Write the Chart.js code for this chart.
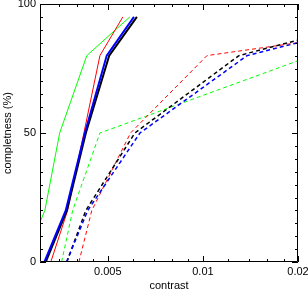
<!DOCTYPE html>
<html>
<head>
<meta charset="utf-8">
<script src="https://cdn.jsdelivr.net/npm/chart.js@4.4.1/dist/chart.umd.min.js"></script>
<style>
  html, body { margin: 0; padding: 0; background: #fff; }
  #wrap { width: 308px; height: 291px; }
</style>
</head>
<body>
<div id="wrap"><canvas id="chart"></canvas></div>
<script>
// completeness levels (%) and the contrast reached at each level
const levels = [0, 20, 50, 80, 95];
const blackSolid = [0.00318, 0.00371, 0.00426, 0.00505, 0.00618];
const blueSolid  = [0.00315, 0.00368, 0.00423, 0.00496, 0.00605];
const redSolid   = [0.00330, 0.00373, 0.00420, 0.00472, 0.00558];
const greenSolid = [0.00270, 0.00316, 0.00352, 0.00429, 0.00587];

// dashed curves run off the right edge, so keep x and y per point
const blackDashedX = [0.00371, 0.00426, 0.00609, 0.0130, 0.02];
const blackDashedY = [0, 20, 50, 80, 86];
const blueDashedX  = [0.00370, 0.00432, 0.00632, 0.0138, 0.02];
const blueDashedY  = [0, 20, 50, 80, 85];
const redDashedX   = [0.00405, 0.00445, 0.00590, 0.0103, 0.02];
const redDashedY   = [0, 20, 50, 80, 85];
const greenDashedX = [0.00357, 0.00387, 0.00472, 0.02];
const greenDashedY = [0, 20, 50, 78];

// tick values
const xMajor = [0.005, 0.01, 0.02];
const xMinor = [0.0035, 0.004, 0.0045, 0.006, 0.007, 0.008, 0.009, 0.012, 0.014, 0.016, 0.018];
const yMajor = [0, 50, 100];
const yMinor = [5, 10, 15, 20, 25, 30, 35, 40, 45, 55, 60, 65, 70, 75, 80, 85, 90, 95];

const pts = (xs, ys) => xs.map((v, i) => ({ x: v, y: ys[i] }));

const font = { family: "'Liberation Sans', Arial, sans-serif", size: 11, lineHeight: 1 };

function line(label, data, color, width, dashed) {
  return {
    label: label,
    data: data,
    borderColor: color,
    borderWidth: width,
    borderDash: dashed ? [4, 3] : [],
    pointRadius: 0,
    tension: 0,
    fill: false,
    clip: 0
  };
}

// IDL-style box with inward ticks on all four sides
const boxTicks = {
  id: 'boxTicks',
  afterDatasetsDraw(chart) {
    const { ctx, chartArea: a, scales: { x, y } } = chart;
    ctx.save();
    ctx.strokeStyle = '#000';
    ctx.lineWidth = 1;
    ctx.beginPath();
    ctx.rect(a.left + 0.5, a.top + 0.5, a.right - a.left - 1, a.bottom - a.top - 1);
    const tx = (v, len) => {
      const px = Math.round(x.getPixelForValue(v)) + 0.5;
      ctx.moveTo(px, a.bottom); ctx.lineTo(px, a.bottom - len);
      ctx.moveTo(px, a.top); ctx.lineTo(px, a.top + len);
    };
    const ty = (v, len) => {
      const py = Math.round(y.getPixelForValue(v)) + 0.5;
      ctx.moveTo(a.left, py); ctx.lineTo(a.left + len, py);
      ctx.moveTo(a.right, py); ctx.lineTo(a.right - len, py);
    };
    xMajor.forEach(v => tx(v, 6));
    xMinor.forEach(v => tx(v, 3));
    yMajor.forEach(v => ty(v, 6));
    yMinor.forEach(v => ty(v, 3));
    ctx.stroke();
    ctx.restore();
  }
};

new Chart(document.getElementById('chart').getContext('2d'), {
  type: 'line',
  data: {
    datasets: [
      line('solid blue', pts(blueSolid, levels), '#0000ff', 2, false),
      line('solid black', pts(blackSolid, levels), '#000000', 2, false),
      line('solid red', pts(redSolid, levels), '#ff0000', 1, false),
      line('solid green', pts(greenSolid, levels), '#00ff00', 1, false),
      line('dashed blue', pts(blueDashedX, blueDashedY), '#0000ff', 1.5, true),
      line('dashed black', pts(blackDashedX, blackDashedY), '#000000', 1.5, true),
      line('dashed red', pts(redDashedX, redDashedY), '#ff0000', 1, true),
      line('dashed green', pts(greenDashedX, greenDashedY), '#00ff00', 1, true)
    ]
  },
  options: {
    responsive: true,
    maintainAspectRatio: false,
    animation: false,
    layout: { padding: { top: 4, right: 10, bottom: 0, left: 0 } },
    plugins: {
      legend: { display: false },
      tooltip: { enabled: false }
    },
    scales: {
      x: {
        type: 'logarithmic',
        min: 0.00305,
        max: 0.02,
        grid: { display: false, drawTicks: false, tickLength: 0 },
        border: { display: false },
        afterBuildTicks: s => { s.ticks = xMajor.map(v => ({ value: v })); },
        afterFit: s => { s.height = 29; s.paddingLeft = 0; s.paddingRight = 0; },
        ticks: {
          callback: v => String(v),
          font: font,
          color: '#000',
          padding: 4,
          maxRotation: 0,
          autoSkip: false
        },
        title: { display: true, text: 'contrast', font: font, color: '#000', padding: 0 }
      },
      y: {
        min: 0,
        max: 100,
        grid: { display: false, drawTicks: false, tickLength: 0 },
        border: { display: false },
        afterBuildTicks: s => { s.ticks = yMajor.map(v => ({ value: v })); },
        afterFit: s => { s.width = 40; s.paddingTop = 0; s.paddingBottom = 0; },
        ticks: { font: font, color: '#000', padding: 4 },
        title: { display: true, text: 'completness (%)', font: font, color: '#000', padding: { top: 2, bottom: 0 } }
      }
    }
  },
  plugins: [boxTicks]
});
</script>
</body>
</html>
